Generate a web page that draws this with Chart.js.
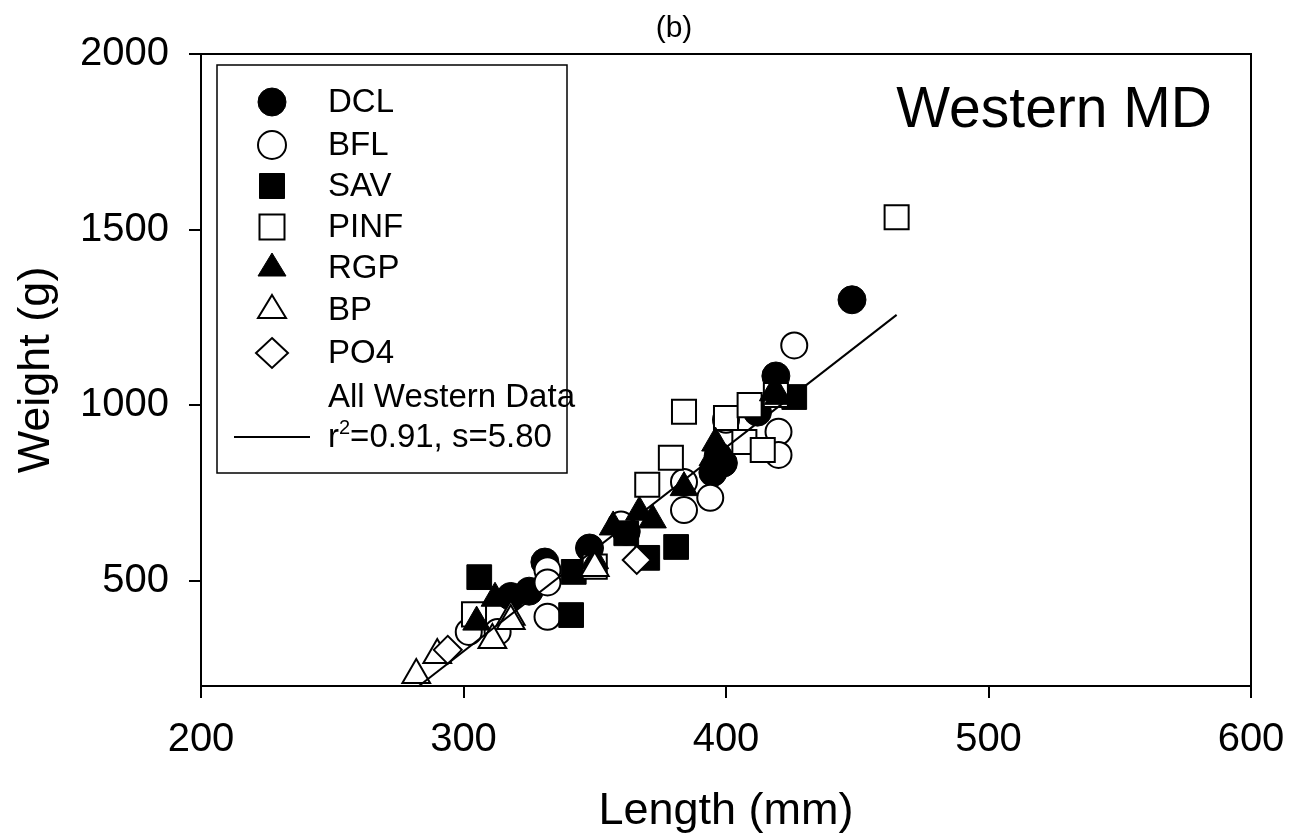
<!DOCTYPE html>
<html>
<head>
<meta charset="utf-8">
<script src="https://cdn.jsdelivr.net/npm/chart.js@4/dist/chart.umd.min.js"></script>
<style>
  body { margin: 0; background: #fff; }
  canvas { display: block; }
</style>
</head>
<body>
<canvas id="chart" width="1298" height="839"></canvas>
<script>
// valores (comprimento mm, peso g)
const dclX = [448, 419, 412, 399, 395, 397, 362, 348, 331, 325, 318];
const dclY = [1300, 1083, 980, 835, 808, 855, 640, 593, 553, 470, 455];

const bflX = [426, 420, 420, 400, 384, 384, 394, 360, 332, 332, 332, 302, 313];
const bflY = [1170, 924, 858, 958, 781, 701, 736, 660, 530, 495, 397, 354, 354];

const savX = [426, 306, 341, 342, 381, 370, 362];
const savY = [1023, 510, 402, 525, 596, 565, 635];

const pinfX = [465, 384, 400, 409, 407, 414, 379, 370, 419, 304, 350];
const pinfY = [1535, 981, 963, 1000, 895, 872, 850, 773, 1029, 404, 540];

const rgpX = [418, 420, 396, 395, 384, 367, 372, 357, 350, 312, 305];
const rgpY = [1035, 1025, 892, 850, 765, 695, 673, 653, 557, 450, 382];

const bpX = [282, 290, 311, 318, 318, 350];
const bpY = [231, 288, 331, 397, 385, 536];

const po4X = [294, 366];
const po4Y = [303, 559];

// reta de ajuste (All Western Data)
const fitX = [283, 465];
const fitY = [200, 1257];

const xTicks = [200, 300, 400, 500, 600];
const yTicks = [500, 1000, 1500, 2000];

const FONTE = '"Liberation Sans", Arial, sans-serif';

const pts = (xs, ys) => xs.map((x, i) => ({ x: x, y: ys[i] }));

const series = [
    { label: 'DCL', xs: dclX, ys: dclY, style: 'circle', filled: true, r: 14 },
    { label: 'BFL', xs: bflX, ys: bflY, style: 'circle', filled: false, r: 13 },
    { label: 'SAV', xs: savX, ys: savY, style: 'rect', filled: true, r: 17.5 },
    { label: 'PINF', xs: pinfX, ys: pinfY, style: 'rect', filled: false, r: 17 },
    { label: 'RGP', xs: rgpX, ys: rgpY, style: 'triangle', filled: true, r: 16 },
    { label: 'BP', xs: bpX, ys: bpY, style: 'triangle', filled: false, r: 16 },
    { label: 'PO4', xs: po4X, ys: po4Y, style: 'rectRot', filled: false, r: 14 }
];

const datasets = series.map((s, i) => ({
    label: s.label,
    data: pts(s.xs, s.ys),
    pointStyle: s.style,
    pointRadius: s.r,
    pointBackgroundColor: s.filled ? '#000' : '#fff',
    pointBorderColor: '#000',
    pointBorderWidth: s.filled ? 1 : 2,
    order: 10 - i
}));

datasets.push({
    label: 'All Western Data',
    data: pts(fitX, fitY),
    showLine: true,
    pointRadius: 0,
    borderColor: '#000',
    borderWidth: 2,
    order: 0
});

function desenharMarcador(ctx, style, filled, x, y) {
    ctx.beginPath();
    if (style === 'circle') {
        ctx.arc(x, y, 14, 0, Math.PI * 2);
    } else if (style === 'rect') {
        ctx.rect(x - 12.5, y - 12.5, 25, 25);
    } else if (style === 'triangle') {
        ctx.moveTo(x, y - 15);
        ctx.lineTo(x + 14, y + 8);
        ctx.lineTo(x - 14, y + 8);
        ctx.closePath();
    } else {
        ctx.moveTo(x, y - 15);
        ctx.lineTo(x + 16, y);
        ctx.lineTo(x, y + 15);
        ctx.lineTo(x - 16, y);
        ctx.closePath();
    }
    ctx.fillStyle = filled ? '#000' : '#fff';
    ctx.fill();
    ctx.lineWidth = filled ? 1 : 2;
    ctx.strokeStyle = '#000';
    ctx.stroke();
}

const decoracao = {
    id: 'decoracao',
    afterDraw(chart) {
        const { ctx, chartArea: a } = chart;
        ctx.save();

        // moldura (topo e direita)
        ctx.strokeStyle = '#000';
        ctx.lineWidth = 2;
        ctx.beginPath();
        ctx.moveTo(a.left, a.top);
        ctx.lineTo(a.right, a.top);
        ctx.lineTo(a.right, a.bottom);
        ctx.stroke();

        // título (b)
        ctx.fillStyle = '#000';
        ctx.font = '30px ' + FONTE;
        ctx.textAlign = 'center';
        ctx.textBaseline = 'middle';
        ctx.fillText('(b)', 674, 29);

        // Western MD
        ctx.font = '57px ' + FONTE;
        ctx.textAlign = 'right';
        ctx.textBaseline = 'alphabetic';
        ctx.fillText('Western MD', 1212, 127);

        // caixa da legenda
        ctx.lineWidth = 1.5;
        ctx.strokeRect(217, 65, 350, 408);

        const linhas = [102, 145, 186, 227, 268, 310, 353];
        ctx.font = '33px ' + FONTE;
        ctx.textAlign = 'left';
        ctx.textBaseline = 'middle';
        series.forEach((s, i) => {
            desenharMarcador(ctx, s.style, s.filled, 272, linhas[i]);
            ctx.fillStyle = '#000';
            ctx.fillText(s.label, 328, linhas[i] + 1);
        });

        ctx.fillText('All Western Data', 328, 398);
        ctx.fillText('r', 328, 438);
        const rw = ctx.measureText('r').width;
        ctx.font = '20px ' + FONTE;
        ctx.fillText('2', 328 + rw, 428);
        const w2 = ctx.measureText('2').width;
        ctx.font = '33px ' + FONTE;
        ctx.fillText('=0.91, s=5.80', 328 + rw + w2, 438);

        ctx.lineWidth = 2;
        ctx.beginPath();
        ctx.moveTo(234, 437);
        ctx.lineTo(310, 437);
        ctx.stroke();

        ctx.restore();
    }
};

new Chart(document.getElementById('chart'), {
    type: 'scatter',
    data: { datasets: datasets },
    options: {
        responsive: false,
        animation: false,
        layout: { padding: { top: 54, right: 47, left: 0, bottom: 0 } },
        plugins: {
            legend: { display: false },
            tooltip: { enabled: false }
        },
        scales: {
            x: {
                type: 'linear',
                min: 200,
                max: 600,
                afterBuildTicks: s => { s.ticks = xTicks.map(v => ({ value: v })); },
                afterFit: s => { s.height = 153; s.paddingLeft = 0; s.paddingRight = 0; },
                ticks: { color: '#000', font: { family: FONTE, size: 40 }, padding: 18, maxRotation: 0, callback: v => String(v) },
                grid: { drawOnChartArea: false, drawTicks: true, tickLength: 12, color: '#000', lineWidth: 2 },
                border: { color: '#000', width: 2 },
                title: { display: true, text: 'Length (mm)', color: '#000', font: { family: FONTE, size: 45 }, padding: { top: 0, bottom: 0 } }
            },
            y: {
                type: 'linear',
                min: 200,
                max: 2000,
                afterBuildTicks: s => { s.ticks = yTicks.map(v => ({ value: v })); },
                afterFit: s => { s.width = 201; s.paddingTop = 0; s.paddingBottom = 0; },
                ticks: { color: '#000', font: { family: FONTE, size: 40 }, padding: 20, callback: v => String(v) },
                grid: { drawOnChartArea: false, drawTicks: true, tickLength: 12, color: '#000', lineWidth: 2 },
                border: { color: '#000', width: 2 },
                title: { display: true, text: 'Weight (g)', color: '#000', font: { family: FONTE, size: 45 }, padding: { top: 10, bottom: 0 } }
            }
        }
    },
    plugins: [decoracao]
});
</script>
</body>
</html>
